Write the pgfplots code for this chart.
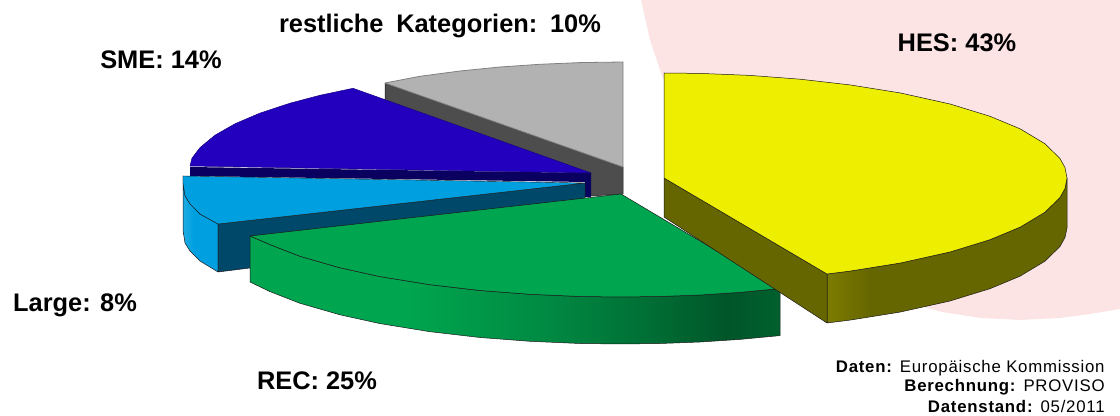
\documentclass[border=0pt]{standalone}
\usepackage{pgfplots}
\pgfplotsset{compat=1.18}
\usepackage{fontspec}
\setmainfont{Liberation Sans}
\definecolor{bgpink}{HTML}{FCE4E4}
\definecolor{hes}{HTML}{EEEE00}
\definecolor{hesside}{HTML}{666600}
\definecolor{rec}{HTML}{00A54F}
\definecolor{large}{HTML}{00A0E0}
\definecolor{largedark}{HTML}{00486A}
\definecolor{sme}{HTML}{2200BE}
\definecolor{smedark}{HTML}{0A0060}
\definecolor{rest}{HTML}{B2B2B2}
\definecolor{restdark}{HTML}{4D4D4D}
\definecolor{edge}{HTML}{1A1A1A}
% side walls: the bbox of the path maps to 25bp..75bp
\pgfdeclarehorizontalshading{recside}{100bp}{color(0bp)=(rec); color(25bp)=(rec); color(40bp)=(rec);
  color(52bp)=(rec!85!black); color(62bp)=(rec!68!black); color(70bp)=(rec!52!black); color(75bp)=(rec!58!black); color(100bp)=(rec!58!black)}
\pgfdeclarehorizontalshading{hesside}{100bp}{color(0bp)=(hes!52!black); color(25bp)=(hes!52!black); color(34bp)=(hesside); color(75bp)=(hesside); color(100bp)=(hesside)}
\pgfdeclarehorizontalshading{largeside}{100bp}{color(0bp)=(large!88!white); color(25bp)=(large!88!white); color(40bp)=(large); color(100bp)=(large)}
\newcommand{\biglabel}{\fontsize{12.7}{14}\selectfont\bfseries}
\newcommand{\smalllabel}{\fontsize{8.4}{9}\selectfont\addfontfeature{LetterSpace=4.5}}
\begin{document}
\begin{tikzpicture}
\begin{axis}[
  scale only axis,
  width=560pt, height=208pt,
  xmin=0, xmax=1120, ymin=0, ymax=416,
  y dir=reverse,
  hide axis,
  clip=true,
  every axis plot/.append style={line join=round},
]
% background circle
\addplot[fill=bgpink, draw=none] coordinates {
 (641,0) (650,40) (661,73) (672,100) (701,150) (741,200) (770,227) (799,250) (849,280)
 (898,300) (942,312) (981,318) (1020,320) (1060,318) (1090,314) (1120,309) (1120,0)} -- cycle;
% restliche Kategorien
\addplot[fill=restdark, draw=edge, line width=0.25pt] coordinates {
 (385,83) (623,167) (623,194) (590,196) (590,180) (385,110)} -- cycle;
\addplot[fill=rest, draw=gray, line width=0.4pt] coordinates {
 (623,62) (623,167) (385,83) (420,76.3) (460,71) (500,67) (540,64.3) (580,62.6)} -- cycle;
% SME
\addplot[fill=smedark, draw=none] coordinates {
 (190,167) (591,173) (591,197) (585,197) (585,182) (190,176)} -- cycle;
\addplot[fill=sme, draw=sme!70!black, line width=0.25pt] coordinates {
 (591,173) (353,88.3) (320,95.3) (290,103.2) (260,113.1) (235,123.8) (215,135.2)
 (200,147.6) (192,158.2) (190,166)} -- cycle;
% Large
\addplot[shade, shading=largeside, draw=edge, line width=0.25pt] coordinates {
 (183,176) (183,230) (185,243) (190,251) (200,261) (218,272) (218,224) (200,214)
 (190,203.8) (185,195.8) (183,183)} -- cycle;
\addplot[fill=largedark, draw=edge, line width=0.25pt] coordinates {
 (218,224) (585,183) (585,199) (250,268) (218,272)} -- cycle;
\addplot[fill=large, draw=edge, line width=0.2pt] coordinates {
 (183,176) (585,183) (218,224) (200,214) (190,203.8) (185,195.8) (183,183)} -- cycle;
% REC
\addplot[shade, shading=recside, draw=edge, line width=0.25pt] coordinates {
 (250,236) (250,282) (270,291.6) (300,303.3) (340,314.8) (380,323.6) (430,331.7)
 (480,337.5) (530,341.3) (580,343.5) (621,344) (660,343.5) (700,342) (740,339.4)
 (780,335.6) (780,288.6) (740,292.4) (700,295) (660,296.5) (621,297) (580,296.5)
 (530,294.3) (480,290.5) (430,284.7) (380,276.6) (340,267.8) (300,256.3) (270,244.6)} -- cycle;
\addplot[fill=rec, draw=edge, line width=0.25pt] coordinates {
 (621,194) (780,288.6) (740,292.4) (700,295) (660,296.5) (621,297) (580,296.5)
 (530,294.3) (480,290.5) (430,284.7) (380,276.6) (340,267.8) (300,256.3) (270,244.6)
 (250,236)} -- cycle;
% HES
\addplot[shade, shading=hesside, draw=edge, line width=0.25pt] coordinates {
 (827,274) (827,323) (850,320.1) (900,312.1) (950,301) (990,288.7) (1020,276.2)
 (1045,261.2) (1060,246.5) (1065,237.4) (1067,228) (1067,178) (1065,188.4) (1060,197.5) (1045,212.2) (1020,227.2)
 (990,239.7) (950,252) (900,263.1) (850,271.1)} -- cycle;
\addplot[fill=hesside, draw=edge, line width=0.25pt] coordinates {
 (664,178) (827,274) (827,323) (664,217)} -- cycle;
\addplot[fill=hes, draw=edge, line width=0.25pt] coordinates {
 (664,73) (664,178) (827,274) (850,271.1) (900,263.1) (950,252) (990,239.7) (1020,227.2)
 (1045,212.2) (1060,197.5) (1065,188.4) (1067,178) (1065,167.6) (1060,158.5) (1045,143.8) (1020,128.8) (990,116.3)
 (950,104) (900,92.9) (850,84.9) (800,79.2) (750,75.4) (700,73.4)} -- cycle;
% labels
\path (axis cs:0,0) rectangle (axis cs:1120,416);
\node[font=\biglabel] at (axis cs:440,26) {restliche\hspace{0.5em}Kategorien:\hspace{0.5em}10\%};
\node[font=\biglabel] at (axis cs:957,43) {HES: 43\%};
\node[font=\biglabel] at (axis cs:161,60) {SME: 14\%};
\node[font=\biglabel] at (axis cs:75,305) {Large: 8\%};
\node[font=\biglabel] at (axis cs:317,381) {REC: 25\%};
\node[font=\smalllabel, anchor=east, inner sep=0pt] at (axis cs:1105,368) {\textbf{Daten:} Europäische Kommission};
\node[font=\smalllabel, anchor=east, inner sep=0pt] at (axis cs:1105,387) {\textbf{Berechnung:} PROVISO};
\node[font=\smalllabel, anchor=east, inner sep=0pt] at (axis cs:1105,406) {\textbf{Datenstand:} 05/2011};
\end{axis}
\end{tikzpicture}
\end{document}
